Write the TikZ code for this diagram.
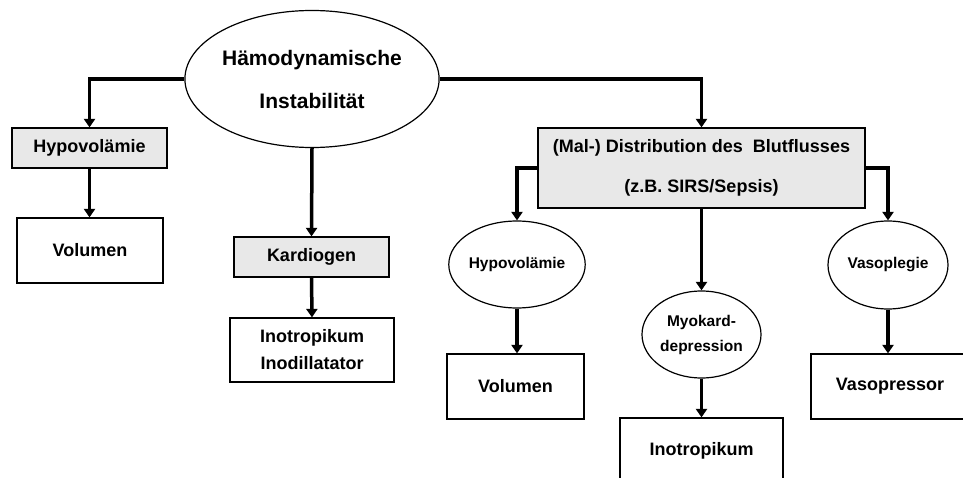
\documentclass[tikz,border=0pt]{standalone}
\usepackage{fontspec}
\setmainfont{Liberation Sans}
\definecolor{causegray}{RGB}{232, 232, 232}
\usetikzlibrary{shapes.geometric, arrows.meta, positioning, calc}

\begin{document}
\begin{tikzpicture}[x=1pt, y=-1pt,
    causebox/.style={draw, line width=1.2pt, fill=causegray, rectangle, inner sep=0pt, align=center, font=\fontsize{18}{40}\selectfont\bfseries},
    therapybox/.style={draw, line width=1.2pt, fill=white, rectangle, inner sep=0pt, align=center, font=\fontsize{18}{27}\selectfont\bfseries},
    causeoval/.style={draw, line width=1.2pt, fill=white, ellipse, inner sep=0pt, align=center, font=\fontsize{15.5}{25}\selectfont\bfseries},
    flow/.style={line width=3.5pt, -{Triangle[width=11pt, length=8.5pt]}}]
    \useasboundingbox (0,0) rectangle (963,478);

    % root
    \node[causeoval, minimum width=246pt, minimum height=137pt, font=\fontsize{21}{43}\selectfont\bfseries] (root) at (312,79) {Hämodynamische\\Instabilität};

    % three causes
    \node[causebox, minimum width=155pt, minimum height=40pt] (hypoA) at (89.5,148) {Hypovolämie};
    \node[causebox, minimum width=155pt, minimum height=40pt] (kardio) at (311.5,257) {Kardiogen};
    \node[causebox, minimum width=327pt, minimum height=80pt] (distrib) at (701.5,168) {(Mal-) Distribution des~~Blutflusses\\(z.B. SIRS/Sepsis)};

    % therapies
    \node[therapybox, minimum width=146pt, minimum height=65pt] (volA) at (90,250.5) {Volumen};
    \node[therapybox, minimum width=164pt, minimum height=64pt] (inoA) at (312,350) {Inotropikum\\Inodillatator};

    % sub-causes of distribution
    \node[causeoval, minimum width=120pt, minimum height=87pt] (hypoB) at (517,264.5) {Hypovolämie};
    \node[causeoval, minimum width=119pt, minimum height=87pt] (myo) at (701.5,334.5) {Myokard-\\depression};
    \node[causeoval, minimum width=120pt, minimum height=88pt] (vasopl) at (888,265) {Vasoplegie};

    \node[therapybox, minimum width=137pt, minimum height=65pt] (volB) at (515.5,386.5) {Volumen};
    \node[therapybox, minimum width=163pt, minimum height=65pt] (inoB) at (701.5,450.5) {Inotropikum};
    \node[therapybox, minimum width=158pt, minimum height=65pt] (vasopr) at (890,386.5) {Vasopressor};

    % connectors
    \draw[flow] (root.west) -| (hypoA.north);
    \draw[flow] (root.east) -| (distrib.north);
    \draw[flow] (root.south) -- (kardio.north);
    \draw[flow] (hypoA.south) -- (hypoA.south |- volA.north);
    \draw[flow] (kardio.south) -- (inoA.north);
    \draw[flow] (distrib.west) -| (hypoB.north);
    \draw[flow] (distrib.east) -| (vasopl.north);
    \draw[flow] (distrib.south) -- (myo.north);
    \draw[flow] (hypoB.south) -- (hypoB.south |- volB.north);
    \draw[flow] (myo.south) -- (inoB.north);
    \draw[flow] (vasopl.south) -- (vasopl.south |- vasopr.north);
\end{tikzpicture}
\end{document}
